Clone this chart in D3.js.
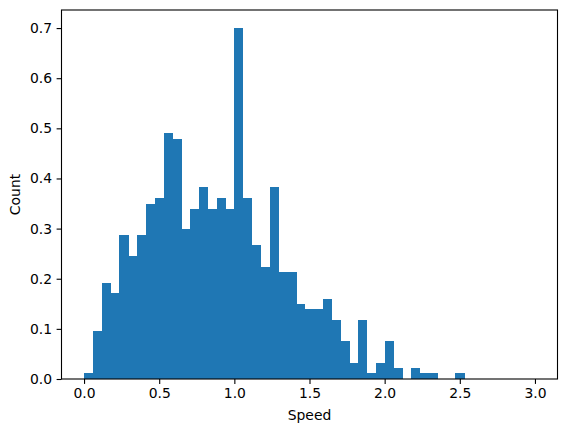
<!DOCTYPE html>
<html>
<head>
<meta charset="utf-8">
<script src="https://cdn.jsdelivr.net/npm/d3@7"></script>
<style>
  body { margin: 0; background: #fff; }
  text { font-family: "DejaVu Sans", sans-serif; }
</style>
</head>
<body>
<svg id="chart"></svg>
<script>
const W = 567, H = 432;
const margin = { top: 10, right: 9.5, bottom: 53, left: 61.5 };

// histogram: 51 bins over [0, 3]
const binRange = [0, 3];
const binCount = 51;
const heights = [
  0.012, 0.095, 0.191, 0.171, 0.287, 0.245, 0.287, 0.350, 0.362, 0.490,
  0.478, 0.299, 0.340, 0.382, 0.340, 0.362, 0.340, 0.701, 0.362, 0.267,
  0.223, 0.382, 0.213, 0.213, 0.149, 0.139, 0.139, 0.159, 0.117, 0.0756,
  0.032, 0.117, 0.012, 0.032, 0.0756, 0.022, 0, 0.022, 0.012, 0.012,
  0, 0, 0.012, 0, 0, 0, 0, 0, 0, 0,
  0
];
const xTicks = [0, 0.5, 1.0, 1.5, 2.0, 2.5, 3.0];
const yTicks = [0, 0.1, 0.2, 0.3, 0.4, 0.5, 0.6, 0.7];

const width = W - margin.left - margin.right;
const height = H - margin.top - margin.bottom;

const svg = d3.select("#chart").attr("width", W).attr("height", H);
const g = svg.append("g").attr("transform", `translate(${margin.left},${margin.top})`);

const pad = (binRange[1] - binRange[0]) * 0.05;
const x = d3.scaleLinear().domain([binRange[0] - pad, binRange[1] + pad]).range([0, width]);
const y = d3.scaleLinear().domain([0, d3.max(heights) * 1.05]).range([height, 0]);

const step = (binRange[1] - binRange[0]) / binCount;
const bins = heights.map((h, i) => ({ x0: binRange[0] + i * step, x1: binRange[0] + (i + 1) * step, h }));

g.selectAll("rect.bar")
  .data(bins.filter(d => d.h > 0))
  .enter().append("rect")
  .attr("class", "bar")
  .attr("x", d => x(d.x0))
  .attr("width", d => x(d.x1) - x(d.x0) + 0.3)
  .attr("y", d => y(d.h))
  .attr("height", d => y(0) - y(d.h))
  .attr("fill", "#1f77b4")
  .attr("shape-rendering", "crispEdges");

// axes
const xAxis = g.append("g")
  .attr("transform", `translate(0,${height})`)
  .call(d3.axisBottom(x).tickValues(xTicks).tickFormat(d3.format(".1f")).tickSizeOuter(0).tickSize(4.9).tickPadding(4.5));
const yAxis = g.append("g")
  .call(d3.axisLeft(y).tickValues(yTicks).tickFormat(d3.format(".1f")).tickSizeOuter(0).tickSize(4.9).tickPadding(4.5));

[xAxis, yAxis].forEach(a => {
  a.select(".domain").remove();
  a.selectAll("line").attr("stroke", "#000").attr("stroke-width", 1.1);
  a.selectAll("text").style("font-size", "13.9px").attr("fill", "#000");
});

// frame
g.append("rect")
  .attr("width", width).attr("height", height)
  .attr("fill", "none").attr("stroke", "#000").attr("stroke-width", 1.1);

g.append("text")
  .attr("x", width / 2).attr("y", height + 41)
  .attr("text-anchor", "middle")
  .style("font-size", "13.9px")
  .text("Speed");

g.append("text")
  .attr("transform", "rotate(-90)")
  .attr("x", -height / 2).attr("y", -42)
  .attr("text-anchor", "middle")
  .style("font-size", "13.9px")
  .text("Count");
</script>
</body>
</html>
